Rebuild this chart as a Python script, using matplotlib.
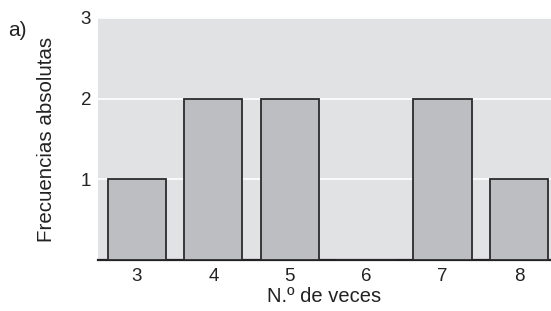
import matplotlib
matplotlib.use("Agg")
import matplotlib.pyplot as plt

# datos
veces = [3, 4, 5, 6, 7, 8]
frecuencias = [1, 2, 2, 0, 2, 1]
yticks = [1, 2, 3]

plt.rcParams['font.family'] = ['Liberation Sans', 'DejaVu Sans']

fig = plt.figure(figsize=(5.51, 3.11), dpi=100)
ax = fig.add_axes([98 / 551, 1 - 260 / 311, 453 / 551, 242 / 311])
ax.set_facecolor('#e1e2e4')

ax.bar(veces, frecuencias, width=0.76, color='#bdbec1', edgecolor='#2b2b2b',
       linewidth=1.3, zorder=5)

ax.set_xlim(2.49, 8.42)
ax.set_ylim(0, 3)
ax.set_yticks(yticks)
ax.set_xticks(veces)
ax.grid(axis='y', color='white', linewidth=1.2, zorder=0)

for s in ['left', 'right', 'top']:
    ax.spines[s].set_visible(False)
ax.spines['bottom'].set_color('#222222')
ax.spines['bottom'].set_linewidth(1.6)
ax.spines['bottom'].set_zorder(4)

ax.tick_params(axis='both', length=0, labelsize=13.5, colors='#222222')
ax.tick_params(axis='y', pad=5)
ax.tick_params(axis='x', pad=6)

ax.set_xlabel('N.º de veces', fontsize=14.5, color='#222222', labelpad=1)
ax.set_ylabel('Frecuencias absolutas', fontsize=14.8, color='#222222', labelpad=18)

fig.text(8 / 551, 1 - 30 / 311, 'a)', fontsize=15, color='#222222', va='center', ha='left')

fig.savefig('out.png', dpi=100)
